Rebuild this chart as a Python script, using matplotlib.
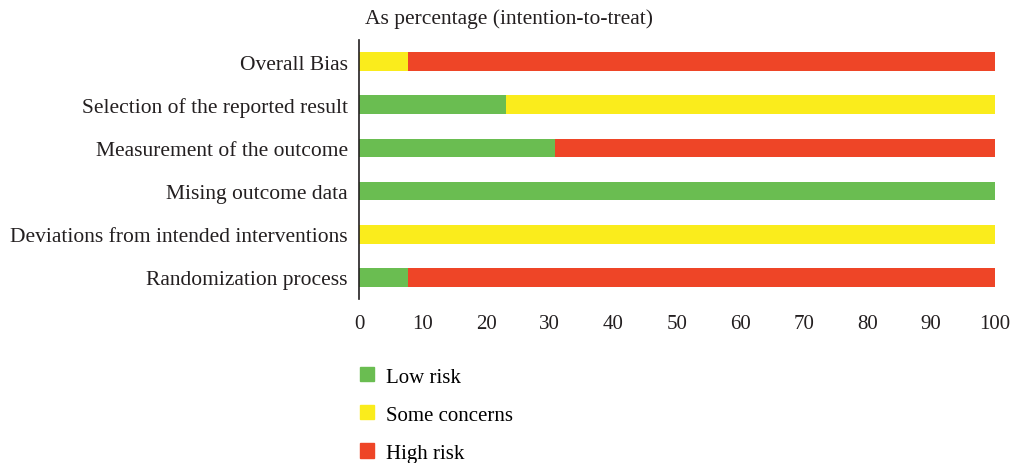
import matplotlib.pyplot as plt
from matplotlib.patches import Patch

# domains, listed bottom to top
domains = ["Randomization process", "Deviations from intended interventions",
           "Mising outcome data", "Measurement of the outcome",
           "Selection of the reported result", "Overall Bias"]
low_risk = [7.7, 0, 100, 30.8, 23.1, 0]
some_concerns = [0, 100, 0, 0, 76.9, 7.7]
high_risk = [92.3, 0, 0, 69.2, 0, 92.3]
x_ticks = [0, 10, 20, 30, 40, 50, 60, 70, 80, 90, 100]

plt.rcParams['font.family'] = ['Liberation Serif', 'DejaVu Serif']
c_low, c_some, c_high = "#6abd51", "#faec1c", "#ee4527"

fig = plt.figure(figsize=(10.14, 4.64), dpi=100)
ax = fig.add_axes([0.354, 0.3534, 0.627, 0.5582])

pos = range(len(domains))
left2 = [a + b for a, b in zip(low_risk, some_concerns)]
ax.barh(pos, low_risk, height=0.43, color=c_low)
ax.barh(pos, some_concerns, left=low_risk, height=0.43, color=c_some)
ax.barh(pos, high_risk, left=left2, height=0.43, color=c_high)

ax.set_xlim(0, 100)
ax.set_ylim(-0.5, 5.5)
ax.set_yticks(list(pos))
ax.set_yticklabels(domains, fontsize=15.5, color="#231f20")
ax.set_xticks(x_ticks)
ax.set_xticklabels([str(t) for t in x_ticks], fontsize=15, color="#231f20")
ax.tick_params(axis="y", length=0, pad=8)
ax.tick_params(axis="x", length=0, pad=11)
for s in ["top", "right", "bottom"]:
    ax.spines[s].set_visible(False)
ax.spines["left"].set_color("#231f20")
ax.spines["left"].set_linewidth(1.2)

fig.text(0.360, 0.958, "As percentage (intention-to-treat)", fontsize=15.5,
         color="#231f20", va="center", ha="left")

handles = [Patch(color=c_low), Patch(color=c_some), Patch(color=c_high)]
fig.legend(handles, ["Low risk", "Some concerns", "High risk"],
           loc="upper left", bbox_to_anchor=(0.337, 0.247), frameon=False,
           fontsize=15, handlelength=0.67, handleheight=0.67,
           labelspacing=0.9, handletextpad=0.55)

fig.savefig("out.png", dpi=100)
